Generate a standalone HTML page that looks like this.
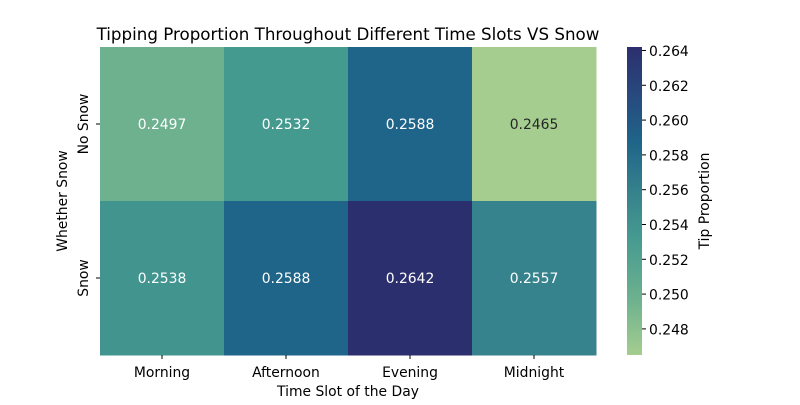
<!DOCTYPE html>
<html><head><meta charset="utf-8"><style>
body{margin:0;background:#fff;}
svg text{font-family:"DejaVu Sans","Liberation Sans",sans-serif;}
</style></head><body>
<svg id="chart" width="800" height="400" xmlns="http://www.w3.org/2000/svg">
<text x="348" y="40" font-size="16.7" text-anchor="middle">Tipping Proportion Throughout Different Time Slots VS Snow</text>
<g id="cells"></g>
<g id="xaxis"></g>
<g id="yaxis"></g>
<text x="348" y="396" font-size="13.9" text-anchor="middle">Time Slot of the Day</text>
<text transform="translate(67,201) rotate(-90)" font-size="13.9" text-anchor="middle">Whether Snow</text>
<defs><linearGradient id="cbg" x1="0" y1="1" x2="0" y2="0"></linearGradient></defs>
<rect x="627" y="47" width="15" height="308" fill="url(#cbg)"/>
<g id="cbticks"></g>
<text transform="translate(709,201) rotate(-90)" font-size="13.9" text-anchor="middle">Tip Proportion</text>
</svg>
<script>
const columns=["Morning","Afternoon","Evening","Midnight"];
const rows=["No Snow","Snow"];
const noSnowValues=[0.2497,0.2532,0.2588,0.2465];
const snowValues=[0.2538,0.2588,0.2642,0.2557];
const cbTicks=[0.248,0.250,0.252,0.254,0.256,0.258,0.260,0.262,0.264];
const vmin=0.2465, vmax=0.2642;
const NS="http://www.w3.org/2000/svg";
const X0=100,Y0=47,W=496,H=308;
const cw=W/columns.length, ch=H/rows.length;
const cmap=[[0,[164,205,143]],[0.18,[109,177,143]],[0.38,[69,154,144]],[0.52,[55,131,141]],[0.69,[31,101,137]],[0.85,[40,72,126]],[1,[44,47,110]]];
function color(v){let t=(v-vmin)/(vmax-vmin);t=Math.max(0,Math.min(1,t));
for(let i=1;i<cmap.length;i++){if(t<=cmap[i][0]){const a=cmap[i-1],b=cmap[i];const u=(t-a[0])/(b[0]-a[0]);
return "rgb("+a[1].map((c,k)=>Math.round(c+(b[1][k]-c)*u)).join(",")+")";}}return "rgb(44,47,110)";}
function lum(v){const t=(v-vmin)/(vmax-vmin);return t<0.1;}
function cbY(v){return Y0+H-(v-vmin)/(vmax-vmin)*H;}
function el(tag,attrs,parent){const e=document.createElementNS(NS,tag);for(const k in attrs)e.setAttribute(k,attrs[k]);parent.appendChild(e);return e;}
const data=[noSnowValues,snowValues];
const cells=document.getElementById("cells");
data.forEach((row,r)=>row.forEach((v,c)=>{
 const rc=el("rect",{x:X0+c*cw,y:Y0+r*ch,width:cw+0.5,height:ch+0.5,fill:color(v)},cells);
 
 
 const t=el("text",{x:X0+c*cw+cw/2,y:Y0+r*ch+ch/2+5,"font-size":13.9,"text-anchor":"middle",fill:lum(v)?"#262626":"#fff"},cells);
 t.textContent=v.toFixed(4);
 
 
}));
const xa=document.getElementById("xaxis");
columns.forEach((c,i)=>{const x=X0+i*cw+cw/2;
 const l=el("line",{x1:x,x2:x,y1:Y0+H,y2:Y0+H+4,stroke:"#000"},xa);
 
 
 const t=el("text",{x:x,y:Y0+H+22,"font-size":13.9,"text-anchor":"middle"},xa);t.textContent=c;
 
 });
const ya=document.getElementById("yaxis");
rows.forEach((r,i)=>{const y=Y0+i*ch+ch/2;
 const l=el("line",{x1:X0-4,x2:X0,y1:y,y2:y,stroke:"#000"},ya);
 
 
 const t=el("text",{transform:"translate("+(X0-12)+","+y+") rotate(-90)","font-size":13.9,"text-anchor":"middle"},ya);t.textContent=r;
 
 });
const g=document.getElementById("cbg");
cmap.forEach(s=>{el("stop",{offset:s[0],"stop-color":"rgb("+s[1].join(",")+")"},g);});
const cb=document.getElementById("cbticks");
cbTicks.forEach(v=>{const y=cbY(v);
 const l=el("line",{x1:642,x2:646,y1:y,y2:y,stroke:"#000"},cb);
 
 
 const t=el("text",{x:649,y:y+5.5,"font-size":13.9},cb);t.textContent=v.toFixed(3);
 
 });
</script>
</body></html>
